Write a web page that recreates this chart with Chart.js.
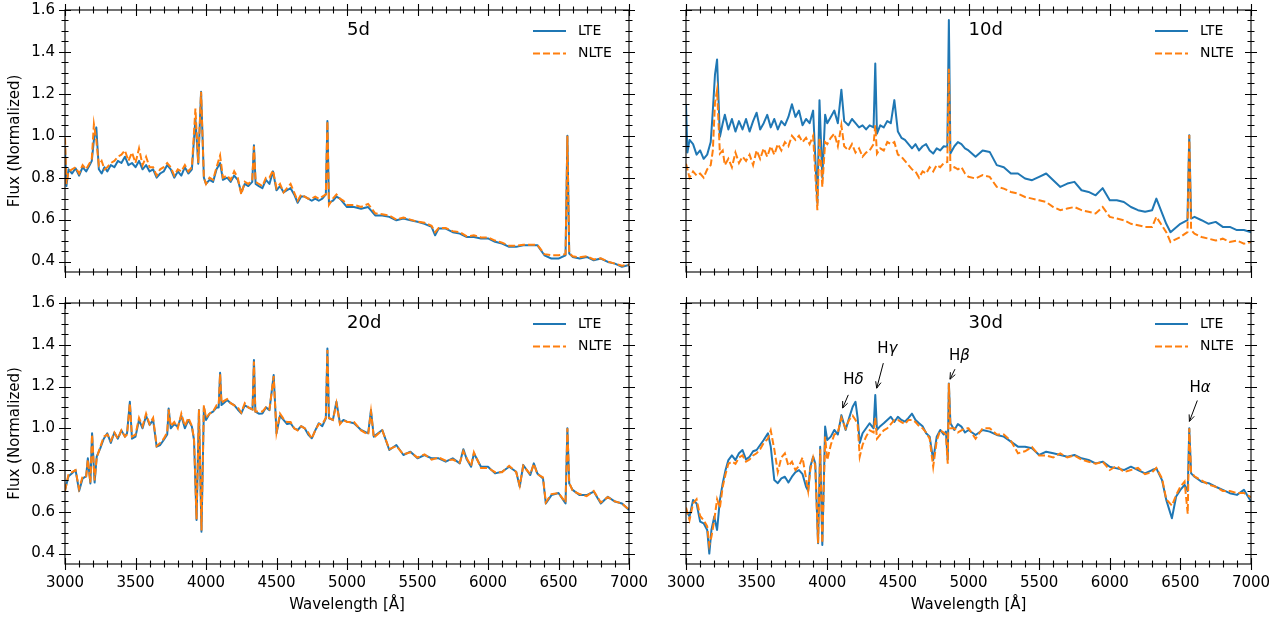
<!DOCTYPE html>
<html>
<head>
<meta charset="utf-8">
<title>LTE vs NLTE spectra</title>
<script src="https://cdn.jsdelivr.net/npm/chart.js@4.4.1/dist/chart.umd.min.js"></script>
<style>
  html, body { margin: 0; padding: 0; background: #fff; }
  #fig { position: relative; width: 1279px; height: 622px; overflow: hidden; }
  #fig canvas { position: absolute; }
</style>
</head>
<body>
<div id="fig">
  <canvas id="c5d" width="660" height="290" style="left:0;top:0"></canvas>
  <canvas id="c10d" width="639" height="290" style="left:640px;top:0"></canvas>
  <canvas id="c20d" width="660" height="332" style="left:0;top:290px"></canvas>
  <canvas id="c30d" width="639" height="332" style="left:640px;top:290px"></canvas>
</div>
<script>
// --- spectra (wavelength in A, normalized flux) ---

// 5d
const wave5d = [
  3000, 3010, 3025, 3050, 3075, 3100, 3125, 3150, 3175, 3190, 3205, 3222, 3240, 3260, 3280, 3300, 3325, 3350, 3375, 3400, 3425, 3450, 3475,
  3500, 3525, 3550, 3575, 3600, 3625, 3650, 3675, 3700, 3725, 3750, 3775, 3800, 3825, 3850, 3875, 3900, 3925, 3945, 3965, 3985,
  4000, 4025, 4050, 4075, 4100, 4120, 4150, 4175, 4200, 4225, 4250, 4275, 4300, 4328, 4340, 4352, 4375, 4400, 4425, 4450, 4475,
  4500, 4525, 4550, 4575, 4600, 4625, 4650, 4675, 4700, 4725, 4750, 4775, 4800, 4825, 4850, 4861, 4872, 4900, 4925, 4950, 4975,
  5000, 5050, 5100, 5150, 5200, 5250, 5300, 5350, 5400, 5450,
  5500, 5550, 5600, 5625, 5650, 5700, 5750, 5800, 5850, 5900, 5950,
  6000, 6050, 6100, 6150, 6200, 6250, 6300, 6350, 6400, 6450,
  6500, 6550, 6563, 6576, 6600, 6650, 6700, 6750, 6800, 6850, 6900, 6950, 7000
];
const lte5d = [
  0.95, 0.76, 0.84, 0.82, 0.845, 0.81, 0.85, 0.83, 0.86, 0.88, 0.98, 1.04, 0.84, 0.82, 0.85, 0.83, 0.86, 0.85, 0.88, 0.87, 0.90, 0.86, 0.87,
  0.85, 0.88, 0.84, 0.86, 0.83, 0.84, 0.80, 0.82, 0.83, 0.86, 0.84, 0.80, 0.83, 0.81, 0.85, 0.82, 0.84, 1.08, 0.867, 1.21, 0.80,
  0.77, 0.79, 0.78, 0.84, 0.87, 0.79, 0.80, 0.78, 0.81, 0.79, 0.73, 0.77, 0.76, 0.78, 0.955, 0.77, 0.76, 0.75, 0.79, 0.77, 0.83,
  0.74, 0.76, 0.73, 0.74, 0.75, 0.72, 0.68, 0.71, 0.71, 0.70, 0.69, 0.70, 0.69, 0.70, 0.72, 1.07, 0.68, 0.69, 0.71, 0.70, 0.68,
  0.66, 0.66, 0.652, 0.66, 0.62, 0.62, 0.613, 0.597, 0.605, 0.597,
  0.59, 0.58, 0.565, 0.525, 0.557, 0.557, 0.54, 0.533, 0.517, 0.517, 0.51,
  0.51, 0.494, 0.486, 0.47, 0.47, 0.478, 0.478, 0.478, 0.43, 0.414,
  0.414, 0.43, 1.0, 0.438, 0.422, 0.414, 0.422, 0.406, 0.414, 0.398, 0.39, 0.375, 0.383
];
const nlte5d = [
  0.99, 0.77, 0.83, 0.84, 0.85, 0.82, 0.86, 0.84, 0.87, 0.89, 1.055, 0.98, 0.86, 0.88, 0.84, 0.85, 0.87, 0.88, 0.90, 0.91, 0.93, 0.88, 0.92,
  0.87, 0.94, 0.86, 0.90, 0.85, 0.85, 0.81, 0.84, 0.85, 0.87, 0.85, 0.81, 0.84, 0.83, 0.86, 0.83, 0.85, 1.13, 0.87, 1.21, 0.80,
  0.77, 0.80, 0.79, 0.85, 0.906, 0.80, 0.81, 0.79, 0.83, 0.80, 0.72, 0.78, 0.77, 0.79, 0.95, 0.78, 0.77, 0.76, 0.80, 0.80, 0.835,
  0.75, 0.77, 0.73, 0.75, 0.77, 0.73, 0.69, 0.72, 0.71, 0.70, 0.70, 0.71, 0.70, 0.71, 0.72, 1.07, 0.67, 0.70, 0.72, 0.70, 0.69,
  0.67, 0.67, 0.66, 0.675, 0.63, 0.625, 0.62, 0.60, 0.61, 0.60,
  0.59, 0.585, 0.57, 0.54, 0.56, 0.56, 0.545, 0.54, 0.52, 0.525, 0.515,
  0.515, 0.50, 0.49, 0.475, 0.475, 0.48, 0.48, 0.48, 0.435, 0.43,
  0.43, 0.435, 1.0, 0.44, 0.425, 0.42, 0.425, 0.41, 0.415, 0.40, 0.39, 0.38, 0.385
];

// 10d
const wave10d = [
  3000, 3010, 3025, 3050, 3075, 3100, 3125, 3150, 3175, 3190, 3205, 3220, 3240, 3260, 3275, 3300, 3325, 3350, 3375, 3400, 3425, 3450, 3475,
  3500, 3525, 3550, 3575, 3600, 3625, 3650, 3675, 3700, 3725, 3750, 3775, 3800, 3825, 3850, 3875, 3900, 3930, 3945, 3965, 3985,
  4000, 4025, 4050, 4075, 4100, 4120, 4150, 4175, 4200, 4225, 4250, 4275, 4300, 4328, 4340, 4352, 4375, 4400, 4425, 4450, 4475,
  4500, 4525, 4550, 4575, 4600, 4625, 4650, 4675, 4700, 4725, 4750, 4775, 4800, 4825, 4850, 4861, 4872, 4900, 4925, 4950, 4975,
  5000, 5050, 5100, 5150, 5200, 5250, 5300, 5350, 5400, 5450,
  5500, 5550, 5600, 5650, 5700, 5750, 5800, 5850, 5900, 5950,
  6000, 6050, 6100, 6150, 6200, 6250, 6300, 6330, 6400, 6430,
  6500, 6550, 6563, 6576, 6600, 6650, 6700, 6750, 6800, 6850, 6900, 6950, 7000
];
const lte10d = [
  1.15, 0.92, 0.98, 0.96, 0.91, 0.93, 0.89, 0.91, 0.97, 1.12, 1.29, 1.364, 0.995, 1.06, 1.10, 1.03, 1.08, 1.02, 1.07, 1.03, 1.08, 1.02, 1.07,
  1.11, 1.03, 1.06, 1.10, 1.04, 1.08, 1.03, 1.07, 1.05, 1.09, 1.15, 1.09, 1.12, 1.05, 1.08, 1.06, 1.12, 0.68, 1.17, 0.80, 1.10,
  1.06, 1.09, 1.12, 1.06, 1.22, 1.07, 1.05, 1.08, 1.06, 1.04, 1.05, 1.03, 1.05, 1.04, 1.345, 1.01, 1.05, 1.04, 1.07, 1.06, 1.17,
  1.02, 0.99, 0.98, 0.96, 0.94, 0.96, 0.93, 0.95, 0.96, 0.93, 0.915, 0.94, 0.93, 0.95, 0.947, 1.552, 0.915, 0.95, 0.97, 0.96, 0.94,
  0.93, 0.90, 0.93, 0.923, 0.86, 0.85, 0.82, 0.82, 0.796, 0.788,
  0.804, 0.82, 0.788, 0.756, 0.772, 0.78, 0.74, 0.732, 0.716, 0.75,
  0.692, 0.692, 0.684, 0.66, 0.645, 0.637, 0.645, 0.70, 0.58, 0.54,
  0.58, 0.597, 1.003, 0.605, 0.613, 0.597, 0.58, 0.589, 0.565, 0.565, 0.55, 0.55, 0.54
];
const nlte10d = [
  0.867, 0.84, 0.80, 0.83, 0.81, 0.82, 0.80, 0.84, 0.86, 0.93, 1.155, 1.218, 0.915, 0.93, 0.86, 0.89, 0.85, 0.92, 0.87, 0.90, 0.88, 0.91, 0.86,
  0.93, 0.89, 0.94, 0.90, 0.95, 0.91, 0.96, 0.93, 0.97, 0.95, 1.00, 0.98, 1.00, 0.97, 0.99, 0.96, 1.00, 0.645, 0.99, 0.756, 0.97,
  0.96, 0.99, 1.01, 0.95, 1.05, 0.95, 0.93, 0.96, 0.92, 0.94, 0.90, 0.92, 0.93, 0.96, 1.05, 0.915, 0.94, 0.93, 0.97, 0.96, 0.97,
  0.91, 0.90, 0.88, 0.86, 0.84, 0.83, 0.80, 0.83, 0.82, 0.85, 0.83, 0.86, 0.85, 0.87, 0.875, 1.32, 0.836, 0.85, 0.84, 0.85, 0.82,
  0.804, 0.796, 0.812, 0.804, 0.756, 0.748, 0.732, 0.724, 0.708, 0.70,
  0.692, 0.684, 0.66, 0.645, 0.653, 0.66, 0.645, 0.637, 0.629, 0.66,
  0.613, 0.605, 0.597, 0.58, 0.573, 0.565, 0.565, 0.613, 0.54, 0.493,
  0.517, 0.54, 1.003, 0.55, 0.533, 0.517, 0.509, 0.50, 0.509, 0.493, 0.50, 0.485, 0.493
];

// 20d
const wave20d = [
  3000, 3025, 3050, 3075, 3100, 3125, 3150, 3162, 3180, 3192, 3210, 3225, 3250, 3275, 3300, 3325, 3350, 3375, 3400, 3425, 3440, 3460, 3475,
  3500, 3525, 3550, 3575, 3600, 3625, 3650, 3675, 3700, 3725, 3735, 3750, 3775, 3800, 3825, 3850, 3875, 3900, 3915, 3933, 3950, 3968, 3985,
  4000, 4025, 4050, 4075, 4090, 4100, 4110, 4125, 4150, 4175, 4200, 4225, 4250, 4275, 4300, 4330, 4340, 4350, 4375, 4400, 4425, 4450, 4480,
  4500, 4525, 4550, 4575, 4600, 4625, 4650, 4675, 4700, 4725, 4750, 4775, 4800, 4825, 4850, 4861, 4872, 4900, 4925, 4950, 4975,
  5000, 5050, 5100, 5150, 5170, 5190, 5250, 5300, 5350, 5400, 5450,
  5500, 5550, 5600, 5650, 5700, 5750, 5800, 5825, 5850, 5880, 5900, 5950,
  6000, 6050, 6100, 6150, 6200, 6225, 6250, 6300, 6325, 6350, 6390, 6410, 6450,
  6500, 6550, 6563, 6576, 6600, 6650, 6700, 6750, 6800, 6850, 6900, 6950, 7000
];
const lte20d = [
  0.705, 0.77, 0.785, 0.80, 0.70, 0.76, 0.77, 0.856, 0.736, 0.976, 0.74, 0.864, 0.904, 0.95, 0.976, 0.93, 0.98, 0.95, 0.99, 0.96, 0.976, 1.127, 0.95,
  0.96, 1.04, 1.00, 1.06, 1.016, 1.04, 0.912, 0.92, 0.944, 0.97, 1.095, 1.00, 1.02, 1.008, 1.06, 1.00, 1.04, 1.008, 0.944, 0.561, 1.087, 0.505, 1.10,
  1.04, 1.07, 1.08, 1.10, 1.10, 1.266, 1.111, 1.12, 1.135, 1.12, 1.111, 1.09, 1.071, 1.11, 1.10, 1.09, 1.327, 1.08, 1.07, 1.071, 1.10, 1.087, 1.255,
  0.976, 1.06, 1.04, 1.02, 1.024, 1.00, 0.992, 1.01, 1.00, 0.97, 0.952, 0.99, 1.024, 1.01, 1.048, 1.382, 1.048, 1.04, 1.127, 1.024, 1.04,
  1.032, 1.024, 0.992, 0.976, 1.087, 0.96, 0.992, 0.896, 0.92, 0.872, 0.888,
  0.856, 0.872, 0.856, 0.856, 0.84, 0.856, 0.832, 0.90, 0.85, 0.816, 0.88, 0.816,
  0.816, 0.784, 0.792, 0.816, 0.792, 0.72, 0.824, 0.776, 0.832, 0.784, 0.76, 0.64, 0.68,
  0.69, 0.64, 1.0, 0.736, 0.705, 0.68, 0.68, 0.697, 0.64, 0.672, 0.649, 0.64, 0.609
];
const nlte20d = [
  0.70, 0.78, 0.79, 0.80, 0.71, 0.77, 0.77, 0.85, 0.74, 0.97, 0.75, 0.86, 0.91, 0.96, 0.97, 0.94, 0.98, 0.95, 0.99, 0.96, 0.97, 1.12, 0.96,
  0.97, 1.05, 1.01, 1.07, 1.02, 1.05, 0.915, 0.93, 0.95, 0.98, 1.09, 1.01, 1.03, 1.00, 1.07, 1.01, 1.05, 1.01, 0.95, 0.565, 1.09, 0.51, 1.11,
  1.05, 1.07, 1.08, 1.11, 1.11, 1.26, 1.12, 1.13, 1.14, 1.12, 1.11, 1.10, 1.075, 1.12, 1.10, 1.09, 1.32, 1.08, 1.08, 1.08, 1.10, 1.09, 1.25,
  0.98, 1.07, 1.045, 1.03, 1.03, 1.00, 0.99, 1.01, 1.00, 0.98, 0.95, 0.99, 1.02, 1.02, 1.05, 1.375, 1.05, 1.04, 1.12, 1.02, 1.04,
  1.03, 1.03, 0.99, 0.97, 1.08, 0.955, 0.99, 0.90, 0.915, 0.875, 0.885,
  0.86, 0.875, 0.85, 0.86, 0.845, 0.85, 0.835, 0.89, 0.855, 0.82, 0.885, 0.81,
  0.81, 0.79, 0.79, 0.82, 0.79, 0.725, 0.82, 0.78, 0.83, 0.78, 0.765, 0.645, 0.685,
  0.69, 0.645, 1.0, 0.74, 0.70, 0.685, 0.675, 0.70, 0.645, 0.67, 0.65, 0.64, 0.61
];

// 30d
const wave30d = [
  3000, 3025, 3050, 3075, 3100, 3125, 3150, 3165, 3180, 3200, 3220, 3240, 3260, 3280, 3300, 3325, 3350, 3375, 3400, 3425, 3450, 3475,
  3500, 3525, 3550, 3580, 3600, 3625, 3650, 3675, 3700, 3725, 3750, 3775, 3800, 3825, 3850, 3865, 3880, 3900, 3915, 3935, 3950, 3965, 3985,
  4000, 4025, 4050, 4075, 4100, 4130, 4155, 4180, 4200, 4215, 4230, 4250, 4275, 4300, 4328, 4340, 4352, 4375, 4400, 4425, 4450, 4475,
  4500, 4525, 4550, 4575, 4600, 4625, 4650, 4675, 4700, 4725, 4750, 4775, 4800, 4825, 4840, 4853, 4861, 4872, 4900, 4925, 4950, 4975,
  5000, 5050, 5100, 5150, 5200, 5250, 5300, 5350, 5400, 5450,
  5500, 5550, 5600, 5650, 5700, 5750, 5800, 5850, 5900, 5950,
  6000, 6050, 6100, 6150, 6200, 6250, 6300, 6330, 6370, 6400, 6440, 6470,
  6500, 6530, 6552, 6563, 6576, 6600, 6650, 6700, 6750, 6800, 6850, 6900, 6950, 7000
];
const lte30d = [
  0.609, 0.577, 0.657, 0.64, 0.553, 0.545, 0.513, 0.40, 0.513, 0.577, 0.513, 0.657, 0.737, 0.80, 0.848, 0.87, 0.848, 0.88, 0.896, 0.85, 0.864, 0.89,
  0.896, 0.92, 0.944, 0.976, 0.912, 0.752, 0.737, 0.76, 0.768, 0.74, 0.768, 0.79, 0.80, 0.78, 0.72, 0.70, 0.816, 0.864, 0.832, 0.449, 0.912, 0.441, 1.008,
  0.944, 0.96, 0.992, 0.97, 1.063, 0.992, 1.05, 1.103, 1.127, 1.05, 0.93, 0.976, 1.00, 1.024, 1.0, 1.159, 0.992, 1.01, 1.024, 1.04, 1.055, 1.03,
  1.055, 1.04, 1.032, 1.05, 1.07, 1.04, 1.024, 1.01, 0.976, 0.96, 0.848, 0.96, 0.992, 0.97, 0.984, 0.85, 1.215, 1.024, 0.992, 1.02, 1.008, 0.98,
  0.992, 0.968, 0.992, 0.984, 0.968, 0.96, 0.936, 0.912, 0.912, 0.904,
  0.872, 0.888, 0.88, 0.872, 0.864, 0.872, 0.856, 0.848, 0.832, 0.84,
  0.816, 0.808, 0.80, 0.816, 0.80, 0.784, 0.80, 0.808, 0.752, 0.657, 0.569, 0.673,
  0.705, 0.729, 0.70, 1.0, 0.784, 0.768, 0.744, 0.737, 0.72, 0.705, 0.689, 0.681, 0.705, 0.649
];
const nlte30d = [
  0.62, 0.56, 0.64, 0.66, 0.58, 0.56, 0.53, 0.44, 0.48, 0.56, 0.66, 0.62, 0.72, 0.78, 0.83, 0.84, 0.83, 0.86, 0.87, 0.84, 0.85, 0.87,
  0.88, 0.90, 0.93, 0.95, 0.99, 0.90, 0.79, 0.86, 0.88, 0.82, 0.84, 0.80, 0.82, 0.86, 0.76, 0.70, 0.80, 0.86, 0.82, 0.45, 0.90, 0.45, 0.96,
  0.848, 0.92, 0.97, 0.98, 1.05, 1.0, 1.04, 1.06, 1.04, 1.02, 0.864, 0.92, 0.96, 0.99, 0.98, 1.05, 0.95, 0.97, 0.99, 1.00, 1.02, 1.04,
  1.04, 1.03, 1.02, 1.04, 1.04, 1.03, 1.01, 1.00, 0.98, 0.95, 0.816, 0.94, 0.99, 0.98, 0.97, 0.83, 1.215, 1.00, 1.00, 0.98, 0.99, 1.00,
  1.00, 0.95, 1.00, 1.00, 0.97, 0.97, 0.94, 0.88, 0.89, 0.91,
  0.87, 0.87, 0.86, 0.88, 0.86, 0.87, 0.85, 0.84, 0.83, 0.84,
  0.80, 0.82, 0.79, 0.80, 0.81, 0.78, 0.79, 0.81, 0.76, 0.66, 0.63, 0.68,
  0.72, 0.745, 0.59, 1.0, 0.79, 0.77, 0.75, 0.73, 0.72, 0.70, 0.70, 0.69, 0.69, 0.67
];

// axis ticks
const xTickValues = [3000, 3500, 4000, 4500, 5000, 5500, 6000, 6500, 7000];
const yTickValues = [0.4, 0.6, 0.8, 1.0, 1.2, 1.4, 1.6];

// Balmer line labels on the 30d panel (text anchor + arrow, in data units)
const lineNames = ['δ', 'γ', 'β', 'α'];
const labelWave = [4185, 4425, 4935, 6639];
const labelFlux = [1.232, 1.379, 1.347, 1.192];
const arrowFrom = [[4149, 1.160], [4397, 1.312], [4904, 1.283], [6620, 1.133]];
const arrowTo = [[4109, 1.097], [4350, 1.192], [4869, 1.235], [6564, 1.033]];
// ----------------------------------------------------------------------

const FONT = 'DejaVu Sans';
Chart.defaults.font.family = FONT;
Chart.defaults.color = '#000';

const BLUE = '#1f77b4';
const ORANGE = '#ff7f0e';

function pairs(wave, flux) {
  if (wave.length !== flux.length) console.warn('length mismatch', wave.length, flux.length);
  return wave.map((w, i) => ({ x: w, y: flux[i] }));
}

// matplotlib-ish box: frame, in-out ticks on all sides, legend, panel label
const axesBox = {
  id: 'axesBox',
  afterDatasetsDraw(chart, args, opts) {
    const { ctx, chartArea: a, scales: { x, y } } = chart;
    ctx.save();
    ctx.strokeStyle = '#000';
    ctx.lineWidth = 1.1;
    ctx.strokeRect(a.left, a.top, a.right - a.left, a.bottom - a.top);
    ctx.beginPath();
    for (let w = 3000; w <= 7000; w += 100) {
      const px = Math.round(x.getPixelForValue(w)) + 0.5;
      const h = w % 500 === 0 ? 6 : 3.5;
      ctx.moveTo(px, a.top - h); ctx.lineTo(px, a.top + h);
      ctx.moveTo(px, a.bottom - h); ctx.lineTo(px, a.bottom + h);
    }
    for (let k = 8; k <= 32; k++) {
      const py = Math.round(y.getPixelForValue(k * 0.05)) + 0.5;
      const h = k % 4 === 0 ? 6 : 3.5;
      ctx.moveTo(a.left - h, py); ctx.lineTo(a.left + h, py);
      ctx.moveTo(a.right - h, py); ctx.lineTo(a.right + h, py);
    }
    ctx.stroke();
    ctx.restore();
  },
  afterDraw(chart, args, opts) {
    const { ctx, chartArea: a, scales: { x, y } } = chart;
    ctx.save();

    // panel label, left edge at 5000 A
    ctx.font = '18px ' + FONT;
    ctx.fillStyle = '#000';
    ctx.textBaseline = 'middle';
    ctx.textAlign = 'left';
    ctx.fillText(opts.title, x.getPixelForValue(5000), a.top + 20);

    // legend
    ctx.font = '14px ' + FONT;
    chart.data.datasets.forEach((ds, i) => {
      const ly = a.top + 21 + i * 22.5;
      ctx.strokeStyle = ds.borderColor;
      ctx.lineWidth = ds.borderWidth;
      ctx.setLineDash(ds.borderDash || []);
      ctx.beginPath();
      ctx.moveTo(a.right - 96, ly);
      ctx.lineTo(a.right - 63, ly);
      ctx.stroke();
      ctx.setLineDash([]);
      ctx.fillText(ds.label, a.right - 51, ly);
    });

    if (opts.notes) {
      ctx.strokeStyle = '#000';
      ctx.lineWidth = 1;
      lineNames.forEach((g, i) => {
        const tx = x.getPixelForValue(labelWave[i]);
        const ty = y.getPixelForValue(labelFlux[i]);
        ctx.font = '15px ' + FONT;
        const wH = ctx.measureText('H').width;
        ctx.font = 'italic 15px ' + FONT;
        const wG = ctx.measureText(g).width;
        const x0 = tx - (wH + wG) / 2;
        ctx.textAlign = 'left';
        ctx.font = '15px ' + FONT;
        ctx.fillText('H', x0, ty);
        ctx.font = 'italic 15px ' + FONT;
        ctx.fillText(g, x0 + wH, ty);

        const x1 = x.getPixelForValue(arrowFrom[i][0]), y1 = y.getPixelForValue(arrowFrom[i][1]);
        const x2 = x.getPixelForValue(arrowTo[i][0]), y2 = y.getPixelForValue(arrowTo[i][1]);
        const ang = Math.atan2(y2 - y1, x2 - x1);
        ctx.beginPath();
        ctx.moveTo(x1, y1); ctx.lineTo(x2, y2);
        ctx.moveTo(x2 - 7 * Math.cos(ang - 0.4), y2 - 7 * Math.sin(ang - 0.4));
        ctx.lineTo(x2, y2);
        ctx.lineTo(x2 - 7 * Math.cos(ang + 0.4), y2 - 7 * Math.sin(ang + 0.4));
        ctx.stroke();
      });
    }
    ctx.restore();
  }
};

function makePanel(canvasId, wave, lte, nlte, title, row, col) {
  const bottomRow = row === 1;
  const leftCol = col === 0;
  new Chart(document.getElementById(canvasId), {
    type: 'line',
    data: {
      datasets: [
        { label: 'LTE', data: pairs(wave, lte), borderColor: BLUE, borderWidth: 2,
          pointRadius: 0, tension: 0, borderJoinStyle: 'round', order: 1 },
        { label: 'NLTE', data: pairs(wave, nlte), borderColor: ORANGE, borderWidth: 2,
          borderDash: [7, 3], pointRadius: 0, tension: 0, order: 0 }
      ]
    },
    options: {
      responsive: false,
      animation: false,
      devicePixelRatio: 1,
      layout: {
        padding: { left: 0, right: leftCol ? 31 : 28, top: bottomRow ? 13 : 10, bottom: bottomRow ? 0 : 18 }
      },
      plugins: {
        legend: { display: false },
        tooltip: { enabled: false },
        axesBox: { title: title, notes: title === '30d' }
      },
      scales: {
        x: {
          type: 'linear', min: 3000, max: 7000,
          afterBuildTicks: s => { s.ticks = xTickValues.map(v => ({ value: v })); },
          // fixed height, and don't let the end labels push the plot area in
          afterFit: s => { s.height = bottomRow ? 58 : 0; s.paddingLeft = 0; s.paddingRight = 0; },
          grid: { display: false, drawTicks: false },
          border: { display: false },
          ticks: { display: bottomRow, autoSkip: false, maxRotation: 0, padding: 10,
                   font: { size: 15 }, color: '#000', callback: v => String(v) },
          title: { display: bottomRow, text: 'Wavelength [Å]', font: { size: 15 }, color: '#000',
                   padding: { top: 0, bottom: 8 } }
        },
        y: {
          type: 'linear', min: 0.35, max: 1.6,
          afterBuildTicks: s => { s.ticks = yTickValues.map(v => ({ value: v })); },
          afterFit: s => { s.width = leftCol ? 65 : 46; s.paddingTop = 0; s.paddingBottom = 0; },
          grid: { display: false, drawTicks: false },
          border: { display: false },
          ticks: { display: leftCol, padding: 10, font: { size: 15 }, color: '#000',
                   callback: v => v.toFixed(1) },
          title: { display: leftCol, text: 'Flux (Normalized)', font: { size: 15 }, color: '#000',
                   padding: { top: 6, bottom: 0 } }
        }
      }
    },
    plugins: [axesBox]
  });
}

makePanel('c5d', wave5d, lte5d, nlte5d, '5d', 0, 0);
makePanel('c10d', wave10d, lte10d, nlte10d, '10d', 0, 1);
makePanel('c20d', wave20d, lte20d, nlte20d, '20d', 1, 0);
makePanel('c30d', wave30d, lte30d, nlte30d, '30d', 1, 1);
</script>
</body>
</html>
